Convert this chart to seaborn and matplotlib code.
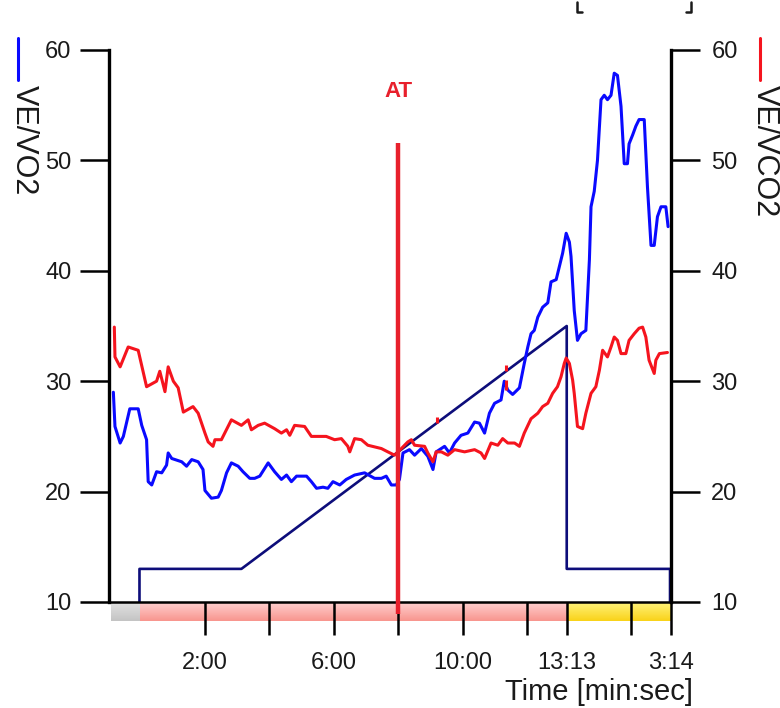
import numpy as np
import pandas as pd
import matplotlib
matplotlib.use("Agg")
import matplotlib.pyplot as plt
import seaborn as sns
from matplotlib.lines import Line2D

sns.set_style("white")
plt.rcParams['font.family'] = ['Liberation Sans', 'DejaVu Sans']

# ---------------- data (time in minutes; rest phase negative) ----------------
vo2_t = [-0.84, -0.79, -0.63, -0.53, -0.33, -0.07, 0.04, 0.19, 0.24, 0.35, 0.50, 0.66, 0.81, 0.86, 0.97,
         1.28, 1.43, 1.59, 1.79, 1.94, 2.00, 2.20, 2.41, 2.51, 2.67, 2.82, 3.03, 3.18, 3.39, 3.54, 3.70,
         3.96, 4.16, 4.37, 4.53, 4.68, 4.84, 5.15, 5.30, 5.46, 5.66, 5.81, 5.97, 6.18, 6.38, 6.64, 6.95,
         7.26, 7.47, 7.62, 7.78, 7.93, 8.03, 8.14, 8.34, 8.50, 8.71, 8.91, 9.07, 9.17, 9.43, 9.58, 9.74,
         9.94, 10.15, 10.36, 10.51, 10.67, 10.82, 10.98, 11.18, 11.28, 11.39, 11.54, 11.75, 11.90, 12.01,
         12.11, 12.21, 12.32, 12.47, 12.63, 12.73, 12.89, 12.99, 13.09, 13.20, 13.30, 13.35, 13.45, 13.55,
         13.66, 13.81, 13.92, 13.97, 14.07, 14.17, 14.28, 14.38, 14.48, 14.59, 14.69, 14.79, 14.90, 15.00,
         15.10, 15.15, 15.26, 15.36, 15.46, 15.62, 15.72, 15.83, 15.93, 16.03, 16.14, 16.29, 16.36]
vo2_v = [29.0, 25.9, 24.4, 25.0, 27.5, 27.5, 26.0, 24.7, 20.9, 20.6, 21.8, 21.7, 22.4, 23.5, 23.0,
         22.7, 22.3, 22.9, 22.7, 22.0, 20.1, 19.4, 19.5, 20.1, 21.7, 22.6, 22.3, 21.8, 21.2, 21.2, 21.4,
         22.6, 21.8, 21.1, 21.5, 20.9, 21.4, 21.4, 20.9, 20.3, 20.4, 20.3, 20.9, 20.6, 21.1, 21.5, 21.7,
         21.2, 21.2, 21.4, 20.6, 20.6, 21.1, 23.5, 23.8, 23.3, 23.9, 23.2, 22.0, 23.6, 24.1, 23.5, 24.4,
         25.1, 25.3, 26.3, 26.2, 25.3, 27.1, 28.0, 28.3, 30.0, 29.2, 28.8, 29.4, 31.6, 33.1,
         34.3, 34.6, 35.8, 36.7, 37.1, 39.0, 39.2, 40.4, 41.6, 43.4, 42.6, 41.3, 36.4, 33.7,
         34.3, 34.6, 41.0, 45.8, 47.2, 50.0, 55.5, 55.9, 55.5, 55.9, 57.9, 57.7, 54.9, 49.7,
         49.7, 51.5, 52.3, 53.1, 53.7, 53.7, 47.6, 42.3, 42.3, 44.9, 45.8, 45.8, 44.0]

vco2_t = [-0.81, -0.79, -0.63, -0.38, -0.07, 0.19, 0.50, 0.60, 0.76, 0.86, 1.02, 1.17, 1.33, 1.63, 1.79,
          2.00, 2.10, 2.25, 2.31, 2.51, 2.82, 3.13, 3.34, 3.44, 3.65, 3.85, 4.16, 4.37, 4.53, 4.63, 4.78,
          5.09, 5.30, 5.46, 5.76, 6.02, 6.23, 6.43, 6.49, 6.64, 6.85, 7.05, 7.47, 7.67, 7.88, 8.09, 8.29,
          8.40, 8.50, 8.81, 8.91, 9.07, 9.17, 9.33, 9.53, 9.74, 10.05, 10.36, 10.56, 10.67, 10.87, 11.08,
          11.23, 11.39, 11.60, 11.75, 11.90, 12.11, 12.32, 12.47, 12.63, 12.78, 12.93, 13.04, 13.14, 13.20,
          13.30, 13.40, 13.45, 13.55, 13.71, 13.81, 13.97, 14.12, 14.23, 14.33, 14.48, 14.59, 14.69, 14.79,
          14.90, 15.05, 15.15, 15.31, 15.46, 15.57, 15.67, 15.77, 15.93, 15.98, 16.09, 16.34]
vco2_v = [34.9, 32.2, 31.3, 33.1, 32.8, 29.5, 30.0, 30.9, 29.05, 31.3, 30.0, 29.4, 27.2, 27.7, 27.1,
          25.3, 24.5, 24.1, 24.7, 24.7, 26.5, 26.0, 26.5, 25.6, 26.0, 26.2, 25.7, 25.3, 25.6, 25.1, 26.0,
          25.9, 25.0, 25.0, 25.0, 24.7, 24.8, 24.1, 23.6, 24.8, 24.7, 24.2, 23.9, 23.6, 23.3, 23.9, 24.5,
          24.7, 24.2, 24.1, 23.5, 22.7, 23.6, 23.6, 23.3, 23.8, 23.6, 23.8, 23.5, 23.0, 24.4, 24.2,
          24.8, 24.4, 24.4, 24.1, 25.3, 26.6, 27.1, 27.7, 28.0, 28.9, 29.5, 30.4, 31.6, 32.1,
          31.6, 30.1, 28.9, 25.9, 25.7, 27.1, 28.9, 29.5, 31.0, 32.8, 32.2, 33.1, 34.0, 33.7,
          32.5, 32.5, 33.7, 34.3, 34.8, 34.9, 34.0, 31.9, 30.7, 31.9, 32.5, 32.6]

# protocol (load) line
load_t = [-0.03, -0.03, 3.13, 13.217, 13.217, 16.42, 16.42]
load_v = [10, 13, 13, 35, 13, 13, 10]

# small event marks
event_t = [9.18, 11.34, 11.34]
event_lo = [26.2, 30.9, 29.2]
event_hi = [26.8, 31.5, 30.1]

# phases
phase_start = [-0.91, 0.0, 13.217]
phase_end = [0.0, 13.217, 16.45]
phase_top = ['#e2e2e2', '#ffcfcf', '#fff27a']
phase_bot = ['#c4c4c4', '#f8968f', '#f9d31a']

at_time = 8.0
at_top = 51.6

tick_pos = [2, 4, 6, 8, 10, 12, 13.217, 15.217, 16.45]
tick_lab = ['2:00', '', '6:00', '', '10:00', '', '13:13', '', '3:14']
y_ticks = [10, 20, 30, 40, 50, 60]

XMIN, XMAX = -0.975, 16.45
YMIN, YMAX = 10, 60

BLUE = '#0a0aff'
RED = '#f5141e'
NAVY = '#0d0d7a'
ATRED = '#e8202c'
TXT = '#1a1a1a'

# ---------------- figure ----------------
W, H = 780, 708
fig = plt.figure(figsize=(W / 100, H / 100), dpi=100)
ax = fig.add_axes([109 / W, 1 - 602 / H, 562 / W, 552 / H])
ax2 = ax.twinx()

df_vo2 = pd.DataFrame({'t': vo2_t, 'v': vo2_v})
df_vco2 = pd.DataFrame({'t': vco2_t, 'v': vco2_v})
df_load = pd.DataFrame({'t': load_t, 'v': load_v})

sns.lineplot(data=df_load, x='t', y='v', ax=ax, sort=False, estimator=None,
             color=NAVY, linewidth=1.9, zorder=3)
sns.lineplot(data=df_vo2, x='t', y='v', ax=ax, sort=False, estimator=None,
             color=BLUE, linewidth=2.2, zorder=4)
sns.lineplot(data=df_vco2, x='t', y='v', ax=ax2, sort=False, estimator=None,
             color=RED, linewidth=2.2, zorder=4)

ax.vlines(event_t, event_lo, event_hi, color=RED, linewidth=2.2, zorder=5)

for a in (ax, ax2):
    a.set_xlim(XMIN, XMAX)
    a.set_ylim(YMIN, YMAX)
    a.set_xlabel('')
    a.set_ylabel('')
    a.set_yticks(y_ticks)
    a.set_yticklabels([str(v) for v in y_ticks])

ax2.set_zorder(ax.get_zorder() + 1)
ax2.patch.set_visible(False)

# phase band below the plotting area (gradient)
band_h = 19 / 11.04
for x0, x1, ct, cb in zip(phase_start, phase_end, phase_top, phase_bot):
    ctop = np.array(matplotlib.colors.to_rgb(ct))
    cbot = np.array(matplotlib.colors.to_rgb(cb))
    frac = np.linspace(0, 1, 20)[:, None]
    grad = (ctop * (1 - frac) + cbot * frac)[:, None, :]
    ax.imshow(grad, extent=(x0, x1, YMIN - band_h, YMIN), aspect='auto',
              origin='upper', clip_on=False, zorder=0.5, interpolation='bilinear')
ax.set_xlim(XMIN, XMAX)
ax.set_ylim(YMIN, YMAX)

# AT line and label
ax2.plot([at_time, at_time], [at_top, YMIN - 1.1], color=ATRED, linewidth=3.2,
         clip_on=False, zorder=6, solid_capstyle='butt')
ax2.text(at_time, 56.2, 'AT', color=ATRED, fontsize=16, fontweight='bold',
         ha='center', va='center')

# ticks
ax.set_xticks(tick_pos)
ax.set_xticklabels(tick_lab)
ax.tick_params(axis='x', direction='out', bottom=True, length=24, width=1.8, pad=12,
               labelsize=17, colors='black', labelcolor=TXT)
ax.tick_params(axis='y', direction='out', length=21, width=1.8, pad=6,
               labelsize=17, left=True, right=False, colors='black', labelcolor=TXT)
ax2.tick_params(axis='y', direction='out', length=21, width=1.8, pad=8,
                labelsize=17, right=True, left=False, colors='black', labelcolor=TXT)
ax2.tick_params(axis='x', bottom=False, labelbottom=False)

for s in ('top', 'right'):
    ax.spines[s].set_visible(False)
for s in ('top', 'left', 'bottom'):
    ax2.spines[s].set_visible(False)
ax.spines['left'].set_linewidth(2.4)
ax.spines['left'].set_color('black')
ax.spines['bottom'].set_linewidth(1.8)
ax.spines['bottom'].set_color('black')
ax.spines['bottom'].set_zorder(5)
ax2.spines['right'].set_linewidth(2.4)
ax2.spines['right'].set_color('black')

# axis titles (rotated) with colour keys
fig.text(24 / W, 1 - 85 / H, 'VE/VO2', rotation=270, fontsize=22, color=TXT,
         ha='center', va='top')
fig.text(765 / W, 1 - 85 / H, 'VE/VCO2', rotation=270, fontsize=22, color=TXT,
         ha='center', va='top')
fig.add_artist(Line2D([18 / W, 18 / W], [1 - 38 / H, 1 - 80 / H], color=BLUE,
                      linewidth=2.2, transform=fig.transFigure))
fig.add_artist(Line2D([760 / W, 760 / W], [1 - 38 / H, 1 - 80 / H], color=RED,
                      linewidth=2.2, transform=fig.transFigure))

# x-axis title
fig.text(693 / W, 1 - 700 / H, 'Time [min:sec]', fontsize=21, color=TXT,
         ha='right', va='baseline')

# cut-off bracket at top edge
fig.add_artist(Line2D([577 / W, 577 / W, 582 / W], [1 - 2 / H, 1 - 12 / H, 1 - 12 / H],
                      color=TXT, linewidth=1.8, transform=fig.transFigure))
fig.add_artist(Line2D([686 / W, 691 / W, 691 / W], [1 - 12 / H, 1 - 12 / H, 1 - 2 / H],
                      color=TXT, linewidth=1.8, transform=fig.transFigure))

fig.savefig('out.png', dpi=100)
